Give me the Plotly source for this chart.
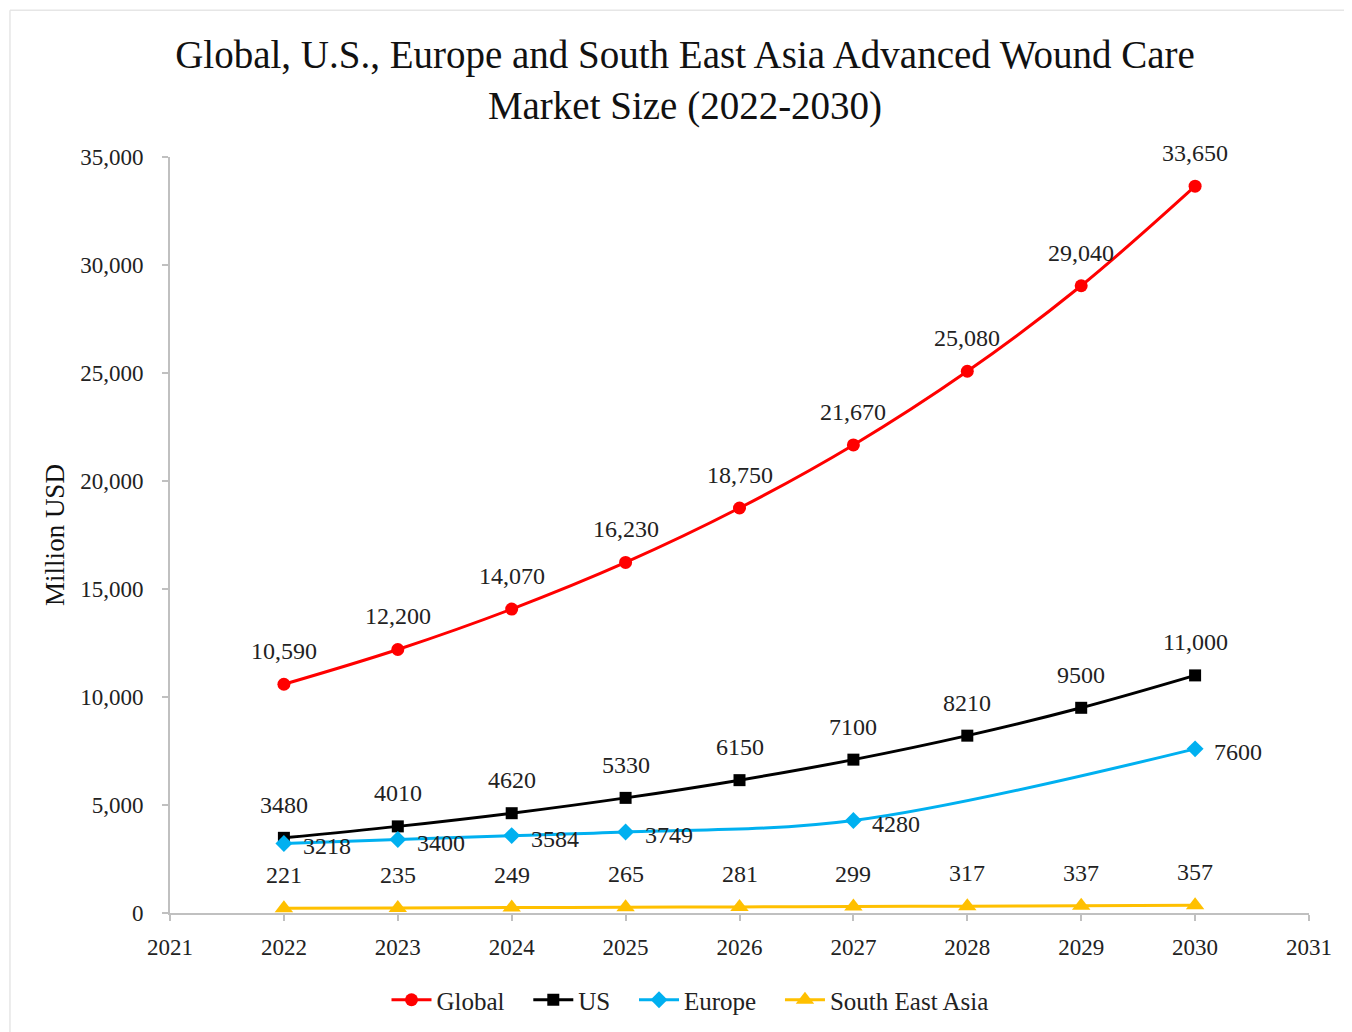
import plotly.graph_objects as go

years = [2022, 2023, 2024, 2025, 2026, 2027, 2028, 2029, 2030]
global_vals = [10590, 12200, 14070, 16230, 18750, 21670, 25080, 29040, 33650]
global_labels = ["10,590", "12,200", "14,070", "16,230", "18,750", "21,670", "25,080", "29,040", "33,650"]
us_vals = [3480, 4010, 4620, 5330, 6150, 7100, 8210, 9500, 11000]
us_labels = ["3480", "4010", "4620", "5330", "6150", "7100", "8210", "9500", "11,000"]
europe_years = [2022, 2023, 2024, 2025, 2027, 2030]
europe_vals = [3218, 3400, 3584, 3749, 4280, 7600]
sea_vals = [221, 235, 249, 265, 281, 299, 317, 337, 357]
series_names = ["Global", "US", "Europe", "South East Asia"]

FONT = "Liberation Serif"
PAD = "\u00a0" * 3
fig = go.Figure()

series = [
    (series_names[0] + PAD, years, global_vals, "#FF0000", "circle", 13),
    (series_names[1] + PAD, years, us_vals, "#000000", "square", 12),
    (series_names[2] + PAD, europe_years, europe_vals, "#00B0F0", "diamond", 13),
    (series_names[3], years, sea_vals, "#FFC000", "triangle-up", 16),
]
for name, xs, ys, col, sym, ms in series:
    fig.add_trace(go.Scatter(
        x=xs, y=ys, name=name, mode="lines+markers",
        line=dict(color=col, width=3, shape="spline", smoothing=1.0),
        marker=dict(color=col, symbol=sym, size=ms),
    ))

ann = []
for x, y, t in zip(years, global_vals, global_labels):
    ann.append(dict(x=x, y=y, text=t, yshift=33))
for x, y, t in zip(years, us_vals, us_labels):
    ann.append(dict(x=x, y=y, text=t, yshift=33))
for x, y in zip(europe_years, europe_vals):
    ann.append(dict(x=x, y=y, text=str(y), xshift=43, yshift=-3))
for x, y in zip(years, sea_vals):
    ann.append(dict(x=x, y=y, text=str(y), yshift=33))
for a in ann:
    a.update(xref="x", yref="y", showarrow=False, font=dict(family=FONT, size=24, color="#222"))

fig.update_layout(
    width=1352, height=1032,
    paper_bgcolor="white", plot_bgcolor="white",
    margin=dict(l=162, r=51, t=149, b=127),
    title=dict(
        text="Global, U.S., Europe and South East Asia Advanced Wound Care<br>Market Size (2022-2030)",
        x=677/1352, xanchor="center", xref="container",
        y=1 - 60/1032, yanchor="middle", yref="container",
        font=dict(family=FONT, size=39, color="#111"),
    ),
    font=dict(family=FONT, size=22, color="#222"),
    annotations=ann,
    showlegend=True,
    legend=dict(orientation="h", x=682/1352, xref="container", xanchor="center",
                y=40/1032, yref="container", yanchor="middle",
                font=dict(family=FONT, size=25, color="#222"),
                itemwidth=40, tracegroupgap=0),
    shapes=[
        dict(type="line", xref="paper", yref="paper", x0=-0.1405, x1=1.05, y0=1.194, y1=1.194,
             line=dict(color="#e6e6e6", width=1.5)),
        dict(type="line", xref="paper", yref="paper", x0=-0.1405, x1=-0.1405, y0=1.194, y1=-0.2,
             line=dict(color="#e6e6e6", width=1.5)),
    ],
)
fig.update_xaxes(range=[2021, 2031], dtick=1, tick0=2021, showgrid=False, zeroline=False,
                 showline=True, linecolor="#c0c0c0", linewidth=2,
                 ticks="outside", ticklen=6, tickcolor="#c0c0c0", tickwidth=2,
                 ticklabelstandoff=6,
                 tickfont=dict(family=FONT, size=23, color="#222"))
fig.update_yaxes(range=[0, 35000], dtick=5000, tickformat=",", showgrid=False, zeroline=False,
                 showline=True, linecolor="#c0c0c0", linewidth=2,
                 ticks="outside", ticklen=6, tickcolor="#c0c0c0", tickwidth=2,
                 ticklabelstandoff=14,
                 tickfont=dict(family=FONT, size=23, color="#222"),
                 title=dict(text="Million USD", font=dict(family=FONT, size=27, color="#111"), standoff=8))

fig.write_html("out.html")
